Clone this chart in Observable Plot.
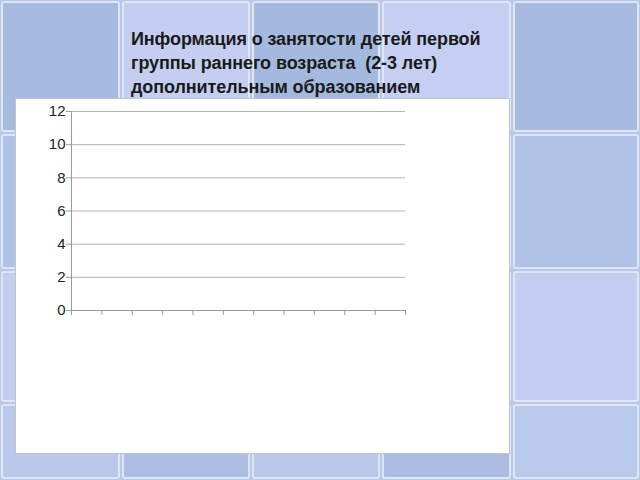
<!DOCTYPE html>
<html>
<head>
<meta charset="utf-8">
<script src="https://cdn.jsdelivr.net/npm/d3@7"></script>
<script src="https://cdn.jsdelivr.net/npm/@observablehq/plot@0.6"></script>
<style>
  html, body { margin: 0; padding: 0; width: 640px; height: 480px; overflow: hidden; }
  body { position: relative; background: #b8c8ea; font-family: "Liberation Sans", Arial, sans-serif; }
  #bg { position: absolute; left: 0; top: 0; width: 640px; height: 480px; }
  .tile { position: absolute; box-sizing: border-box; border: 2px solid #dfe5f3; border-radius: 3px; }
  #title { position: absolute; left: 131px; top: 27px; width: 390px; font: bold 18px/24px "Liberation Sans", Arial, sans-serif; color: #1a1a1a; letter-spacing: -0.1px; }
  #box { position: absolute; left: 15px; top: 98px; width: 495px; height: 356px; background: #fff; box-sizing: border-box; border: 1px solid #c4c4c4; }
  #chart { position: absolute; left: 0; top: 0; }
</style>
</head>
<body>
<div id="bg"></div>
<div id="title">Информация о занятости детей первой<br>группы раннего возраста&nbsp; (2-3 лет)<br>дополнительным образованием</div>
<div id="box"><div id="chart"></div></div>
<script>
// Data (chart is empty in the reference: 11 categories, no visible values)
const categories = ["1", "2", "3", "4", "5", "6", "7", "8", "9", "10", "11"];
const values = [0, 0, 0, 0, 0, 0, 0, 0, 0, 0, 0];
const yTicks = [0, 2, 4, 6, 8, 10, 12];

// Decorative patchwork background
const colX = [0, 121, 251, 381, 512, 640];
const rowY = [0, 133, 270, 403, 480];
const tileColors = [
  ["#a6bbdf", "#c4cef0", "#a4b9de", "#c5cff1", "#a6bbdf"],
  ["#afc2e6", "#b3c5e9", "#adc0e5", "#b2c4e8", "#b0c3e7"],
  ["#c2cdef", "#c4cff0", "#c1ccef", "#c5d0f1", "#c3cef0"],
  ["#b9c9eb", "#abbde2", "#b7c8eb", "#aabce1", "#bacaed"]
];
const bg = document.getElementById("bg");
for (let r = 0; r < 4; r++) {
  for (let c = 0; c < 5; c++) {
    const d = document.createElement("div");
    d.className = "tile";
    d.style.left = (colX[c] + 1) + "px";
    d.style.top = (rowY[r] + 1) + "px";
    d.style.width = (colX[c + 1] - colX[c] - 2) + "px";
    d.style.height = (rowY[r + 1] - rowY[r] - 2) + "px";
    d.style.background = tileColors[r][c];
    bg.appendChild(d);
  }
}

const data = categories.map((c, i) => ({category: c, index: i, value: values[i]}));

const chart = Plot.plot({
  width: 493,
  height: 354,
  marginLeft: 55,
  marginRight: 104,
  marginTop: 12,
  marginBottom: 143,
  style: {background: "transparent", fontFamily: "Liberation Sans, Arial, sans-serif", fontSize: "15px", color: "#222"},
  x: {type: "linear", domain: [0, categories.length], axis: null, label: null},
  y: {domain: [0, 12], axis: null, label: null},
  marks: [
    Plot.gridY(yTicks, {stroke: "#b4b4b4", strokeOpacity: 1}),
    Plot.rectY(data, {x1: "index", x2: d => d.index + 1, y: "value", fill: "#4f81bd", insetLeft: 6, insetRight: 6}),
    Plot.axisY(yTicks, {tickSize: 5, tickPadding: 1, stroke: "#999", fill: "#222", fontSize: 15, label: null}),
    Plot.axisX(d3.range(0, categories.length + 1), {tickSize: 5, tickFormat: () => "", stroke: "#999", label: null}),
    Plot.ruleX([0], {stroke: "#999"}),
    Plot.ruleY([0], {stroke: "#999"})
  ]
});
document.getElementById("chart").appendChild(chart);
</script>
</body>
</html>
